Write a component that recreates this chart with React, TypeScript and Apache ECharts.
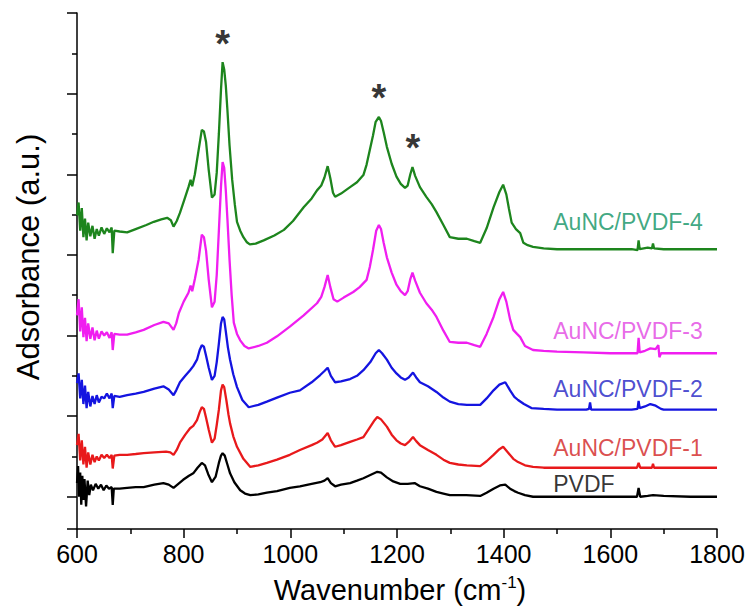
import React, { useEffect, useRef } from "react";
import * as echarts from "echarts";

// Wavenumber (cm-1), absorbance (a.u., vertically offset as plotted)
const pvdf: [number, number][] = [
  [600,0.57],[602,0.78],[604,0.40],[606,0.70],[608,0.30],[610,0.66],[612,0.36],[614,0.62],[617,0.28],[620,0.60],[623,0.42],[626,0.55],[630,0.48],[635,0.56],[640,0.50],[645,0.55],[650,0.48],[655,0.54],[660,0.50],[665,0.52],[667,0.30],[669,0.50],[680,0.50],[694,0.51],[710,0.52],[725,0.52],[745,0.55],[762,0.57],[772,0.55],[781,0.51],[790,0.56],[799,0.61],[810,0.66],[818,0.69],[826,0.76],[834,0.82],[840,0.79],[846,0.68],[853,0.58],[860,0.65],[866,0.82],[870,0.91],[873,0.94],[877,0.91],[882,0.80],[887,0.69],[895,0.58],[906,0.48],[915,0.44],[925,0.42],[940,0.43],[956,0.45],[975,0.47],[999,0.51],[1018,0.53],[1040,0.56],[1056,0.58],[1064,0.60],[1070,0.63],[1076,0.57],[1084,0.53],[1095,0.55],[1112,0.57],[1125,0.60],[1137,0.63],[1150,0.67],[1163,0.71],[1170,0.70],[1181,0.64],[1193,0.59],[1206,0.56],[1220,0.56],[1233,0.57],[1243,0.53],[1258,0.50],[1274,0.46],[1287,0.44],[1299,0.42],[1330,0.42],[1356,0.41],[1368,0.45],[1381,0.50],[1393,0.54],[1403,0.55],[1412,0.50],[1420,0.47],[1427,0.45],[1440,0.42],[1455,0.40],[1500,0.40],[1560,0.40],[1600,0.40],[1650,0.40],[1653,0.51],[1656,0.40],[1670,0.41],[1680,0.42],[1700,0.41],[1750,0.40],[1800,0.40]
];

const auncPvdf1: [number, number][] = [
  [600,1.04],[603,1.18],[606,0.85],[609,1.10],[612,0.80],[615,1.02],[618,0.76],[621,0.95],[625,0.80],[629,0.92],[633,0.83],[637,0.90],[641,0.85],[646,0.92],[651,0.88],[656,0.92],[661,0.88],[665,0.92],[667,0.75],[670,0.91],[680,0.92],[694,0.92],[710,0.93],[725,0.94],[745,0.95],[767,0.96],[775,0.95],[781,0.92],[787,0.98],[793,1.07],[803,1.17],[812,1.25],[818,1.28],[825,1.35],[830,1.45],[834,1.51],[838,1.49],[842,1.38],[847,1.23],[853,1.07],[858,1.12],[862,1.29],[866,1.48],[870,1.72],[873,1.79],[876,1.76],[880,1.60],[884,1.42],[887,1.31],[893,1.15],[900,1.02],[912,0.87],[925,0.77],[940,0.79],[956,0.82],[975,0.86],[999,0.92],[1018,0.98],[1040,1.04],[1050,1.07],[1060,1.11],[1070,1.19],[1076,1.10],[1084,1.02],[1095,1.04],[1112,1.08],[1125,1.11],[1137,1.14],[1150,1.27],[1158,1.35],[1163,1.39],[1170,1.36],[1181,1.27],[1190,1.17],[1199,1.10],[1207,1.06],[1215,1.04],[1222,1.08],[1230,1.14],[1236,1.09],[1243,1.04],[1258,0.98],[1274,0.92],[1287,0.86],[1299,0.82],[1315,0.80],[1331,0.79],[1356,0.78],[1368,0.84],[1381,0.92],[1392,0.99],[1399,1.02],[1408,0.95],[1418,0.87],[1427,0.83],[1440,0.79],[1455,0.77],[1475,0.76],[1500,0.76],[1560,0.76],[1600,0.76],[1650,0.76],[1653,0.82],[1656,0.76],[1678,0.76],[1680,0.81],[1682,0.76],[1700,0.76],[1750,0.76],[1800,0.76]
];

const auncPvdf2: [number, number][] = [
  [600,1.81],[603,1.93],[606,1.62],[609,1.85],[612,1.55],[615,1.78],[618,1.50],[621,1.70],[625,1.52],[629,1.65],[633,1.55],[637,1.66],[641,1.57],[646,1.64],[651,1.62],[656,1.68],[661,1.62],[665,1.68],[667,1.50],[670,1.65],[680,1.64],[694,1.66],[710,1.68],[725,1.70],[745,1.74],[762,1.77],[772,1.73],[781,1.66],[786,1.72],[793,1.82],[803,1.90],[812,1.97],[818,2.02],[825,2.10],[830,2.22],[834,2.28],[838,2.26],[842,2.15],[847,2.00],[853,1.85],[858,1.90],[862,2.07],[866,2.30],[870,2.55],[873,2.63],[876,2.60],[879,2.45],[883,2.25],[887,2.10],[893,1.92],[900,1.76],[910,1.60],[922,1.51],[940,1.54],[956,1.58],[975,1.63],[999,1.69],[1018,1.72],[1040,1.82],[1056,1.91],[1064,1.96],[1070,2.00],[1076,1.90],[1084,1.82],[1095,1.83],[1112,1.86],[1125,1.90],[1137,1.97],[1150,2.07],[1160,2.18],[1166,2.22],[1172,2.18],[1181,2.10],[1190,2.00],[1199,1.93],[1207,1.88],[1215,1.85],[1222,1.88],[1230,1.94],[1236,1.88],[1243,1.82],[1258,1.77],[1274,1.70],[1287,1.63],[1299,1.58],[1315,1.55],[1331,1.54],[1356,1.54],[1368,1.62],[1381,1.72],[1392,1.79],[1403,1.82],[1412,1.72],[1420,1.64],[1427,1.60],[1438,1.55],[1452,1.50],[1475,1.49],[1500,1.48],[1555,1.48],[1560,1.49],[1562,1.57],[1564,1.48],[1600,1.48],[1640,1.48],[1651,1.49],[1653,1.59],[1655,1.50],[1665,1.52],[1675,1.55],[1685,1.53],[1695,1.49],[1700,1.48],[1750,1.48],[1800,1.48]
];

const auncPvdf3: [number, number][] = [
  [600,2.65],[603,2.85],[606,2.45],[609,2.75],[612,2.38],[615,2.62],[618,2.33],[621,2.55],[625,2.36],[629,2.50],[633,2.34],[637,2.46],[641,2.36],[646,2.45],[651,2.40],[656,2.44],[661,2.37],[665,2.44],[667,2.22],[670,2.42],[680,2.41],[694,2.41],[710,2.44],[725,2.47],[745,2.53],[762,2.57],[772,2.55],[781,2.47],[786,2.55],[791,2.68],[800,2.82],[809,2.93],[813,3.02],[816,2.95],[821,3.10],[828,3.34],[834,3.65],[838,3.62],[842,3.45],[847,3.09],[853,2.75],[858,2.82],[862,3.15],[866,3.70],[870,4.25],[873,4.55],[876,4.48],[879,4.20],[882,3.85],[886,3.34],[890,2.90],[894,2.56],[900,2.42],[906,2.34],[914,2.27],[922,2.24],[940,2.27],[956,2.31],[975,2.39],[999,2.51],[1025,2.65],[1050,2.80],[1058,2.88],[1064,3.00],[1070,3.15],[1075,3.00],[1081,2.85],[1088,2.82],[1100,2.87],[1118,2.94],[1130,3.00],[1143,3.09],[1149,3.25],[1155,3.46],[1161,3.70],[1166,3.77],[1170,3.72],[1175,3.55],[1181,3.37],[1190,3.18],[1199,3.03],[1207,2.95],[1215,2.90],[1220,2.95],[1225,3.10],[1229,3.18],[1234,3.08],[1243,2.93],[1255,2.80],[1265,2.72],[1274,2.63],[1287,2.46],[1299,2.32],[1315,2.31],[1331,2.31],[1345,2.28],[1356,2.26],[1368,2.42],[1381,2.63],[1392,2.85],[1399,2.94],[1405,2.82],[1412,2.60],[1418,2.47],[1425,2.42],[1431,2.38],[1440,2.27],[1455,2.22],[1475,2.21],[1500,2.20],[1550,2.19],[1600,2.18],[1640,2.18],[1651,2.18],[1653,2.37],[1655,2.19],[1665,2.21],[1675,2.24],[1685,2.23],[1690,2.28],[1692,2.13],[1695,2.18],[1750,2.18],[1800,2.18]
];

const auncPvdf4: [number, number][] = [
  [600,3.89],[603,4.05],[606,3.70],[609,3.98],[612,3.62],[615,3.85],[618,3.58],[621,3.80],[625,3.63],[629,3.76],[633,3.60],[637,3.72],[641,3.64],[646,3.74],[651,3.66],[656,3.73],[661,3.68],[665,3.74],[667,3.42],[670,3.70],[680,3.69],[694,3.68],[710,3.72],[730,3.77],[744,3.81],[758,3.84],[769,3.86],[776,3.83],[781,3.75],[787,3.82],[793,3.92],[801,4.08],[809,4.24],[813,4.33],[816,4.25],[821,4.40],[828,4.70],[834,4.95],[838,4.93],[842,4.80],[847,4.45],[853,4.11],[858,4.15],[862,4.42],[866,4.90],[870,5.45],[873,5.79],[876,5.70],[879,5.50],[882,5.20],[886,4.76],[891,4.33],[896,4.02],[900,3.81],[906,3.70],[912,3.62],[918,3.56],[924,3.53],[935,3.54],[950,3.58],[970,3.64],[988,3.71],[1005,3.82],[1025,3.99],[1040,4.10],[1050,4.20],[1058,4.26],[1064,4.36],[1070,4.50],[1075,4.35],[1080,4.17],[1084,4.12],[1095,4.16],[1112,4.24],[1125,4.30],[1137,4.39],[1143,4.52],[1149,4.70],[1155,4.88],[1160,5.05],[1166,5.11],[1170,5.06],[1175,4.92],[1181,4.74],[1190,4.53],[1199,4.37],[1207,4.28],[1215,4.23],[1220,4.26],[1225,4.40],[1229,4.49],[1234,4.38],[1243,4.24],[1255,4.12],[1265,4.03],[1274,3.93],[1287,3.77],[1299,3.62],[1315,3.60],[1331,3.60],[1345,3.57],[1356,3.55],[1368,3.73],[1381,3.99],[1392,4.18],[1399,4.27],[1405,4.15],[1410,3.97],[1415,3.80],[1423,3.72],[1431,3.67],[1437,3.55],[1445,3.52],[1455,3.50],[1475,3.48],[1500,3.47],[1550,3.47],[1600,3.47],[1640,3.47],[1651,3.46],[1653,3.58],[1655,3.47],[1670,3.49],[1678,3.48],[1680,3.54],[1682,3.48],[1700,3.47],[1750,3.47],[1800,3.47]
];

const seriesNames = ["PVDF", "AuNC/PVDF-1", "AuNC/PVDF-2", "AuNC/PVDF-3", "AuNC/PVDF-4"];
const seriesData = [pvdf, auncPvdf1, auncPvdf2, auncPvdf3, auncPvdf4];
const lineColors = ["#000000", "#e8191b", "#1414e0", "#f01ef0", "#1d851d"];
const labelColors = ["#000000", "#d21f1f", "#2020c4", "#e244e2", "#0e9262"];
// label anchor (left edge) in data coordinates
const labelX = [1493, 1493, 1493, 1493, 1493];
const labelY = [0.56, 1.01, 1.74, 2.46, 3.81];

// peak markers (asterisks)
const starX = [873, 1166, 1230];
const starY = [6.02, 5.34, 4.72];

const xTickLabels = [600, 800, 1000, 1200, 1400, 1600, 1800];

const FONT = "'Liberation Sans', Arial, sans-serif";

export default function App() {
  const ref = useRef<HTMLDivElement>(null);
  useEffect(() => {
    if (!ref.current) return;
    document.body.style.margin = "0";
    const chart = echarts.init(ref.current, undefined, { renderer: "svg" });
    const lines = seriesData.map((d, i) => ({
      name: seriesNames[i],
      type: "line",
      xAxisIndex: 0,
      yAxisIndex: 1,
      data: d,
      symbol: "none",
      silent: true,
      lineStyle: { color: lineColors[i], width: 2.3 },
      z: 2 + i,
    }));
    const labels = {
      type: "scatter",
      xAxisIndex: 0,
      yAxisIndex: 1,
      symbolSize: 0,
      silent: true,
      z: 10,
      data: seriesNames.map((n, i) => ({
        value: [labelX[i], labelY[i]],
        label: {
          show: true,
          formatter: n,
          position: "inside",
          align: "left",
          verticalAlign: "middle",
          color: labelColors[i],
          fontSize: 23,
          fontFamily: FONT,
        },
      })),
    };
    const stars = {
      type: "scatter",
      xAxisIndex: 0,
      yAxisIndex: 1,
      symbolSize: 0,
      silent: true,
      z: 10,
      data: starX.map((x, i) => [x, starY[i]]),
      label: {
        show: true,
        formatter: "*",
        position: "inside",
        align: "center",
        verticalAlign: "middle",
        color: "#000",
        fontSize: 38,
        fontWeight: "bold",
        fontFamily: FONT,
      },
    };
    chart.setOption({
      animation: false,
      grid: { left: 77, right: 31, top: 13, bottom: 79, containLabel: false },
      xAxis: {
        type: "value",
        min: 600,
        max: 1800,
        interval: 200,
        axisLine: { show: true, onZero: false, lineStyle: { color: "#000", width: 1.5 } },
        axisTick: { show: true, inside: false, length: 9, lineStyle: { color: "#000", width: 1.5 } },
        minorTick: { show: true, splitNumber: 2, length: 5, lineStyle: { color: "#000", width: 1.5 } },
        splitLine: { show: false },
        axisLabel: {
          color: "#000",
          fontSize: 25,
          fontFamily: FONT,
          margin: 12,
          formatter: (v: number) => (xTickLabels.includes(v) ? String(v) : ""),
        },
      },
      yAxis: [
        {
          type: "value",
          inverse: true,
          min: 0,
          max: 6.4,
          interval: 1,
          axisLine: { show: true, onZero: false, lineStyle: { color: "#000", width: 1.5 } },
          axisTick: { show: true, inside: false, length: 10, lineStyle: { color: "#000", width: 1.5 } },
          minorTick: { show: true, splitNumber: 2, length: 5, lineStyle: { color: "#000", width: 1.5 } },
          splitLine: { show: false },
          axisLabel: { show: false },
        },
        {
          type: "value",
          min: 0,
          max: 6.4,
          show: false,
          splitLine: { show: false },
        },
      ],
      graphic: [
        {
          type: "text",
          x: 400,
          y: 590,
          silent: true,
          style: {
            text: "{n|Wavenumber (cm}{s|-1}{n|)}",
            align: "center",
            verticalAlign: "middle",
            rich: {
              n: { fontSize: 29, fontFamily: FONT, fill: "#000", lineHeight: 33 },
              s: { fontSize: 17, fontFamily: FONT, fill: "#000", verticalAlign: "top", lineHeight: 33 },
            },
          },
        },
        {
          type: "text",
          x: 28,
          y: 257,
          rotation: Math.PI / 2,
          silent: true,
          style: {
            text: "Adsorbance (a.u.)",
            fontSize: 31,
            fontFamily: FONT,
            fill: "#000",
            align: "center",
            verticalAlign: "middle",
          },
        },
      ],
      series: [...lines, labels, stars],
    });
    return () => chart.dispose();
  }, []);
  return <div ref={ref} style={{ width: 748, height: 608 }} />;
}
